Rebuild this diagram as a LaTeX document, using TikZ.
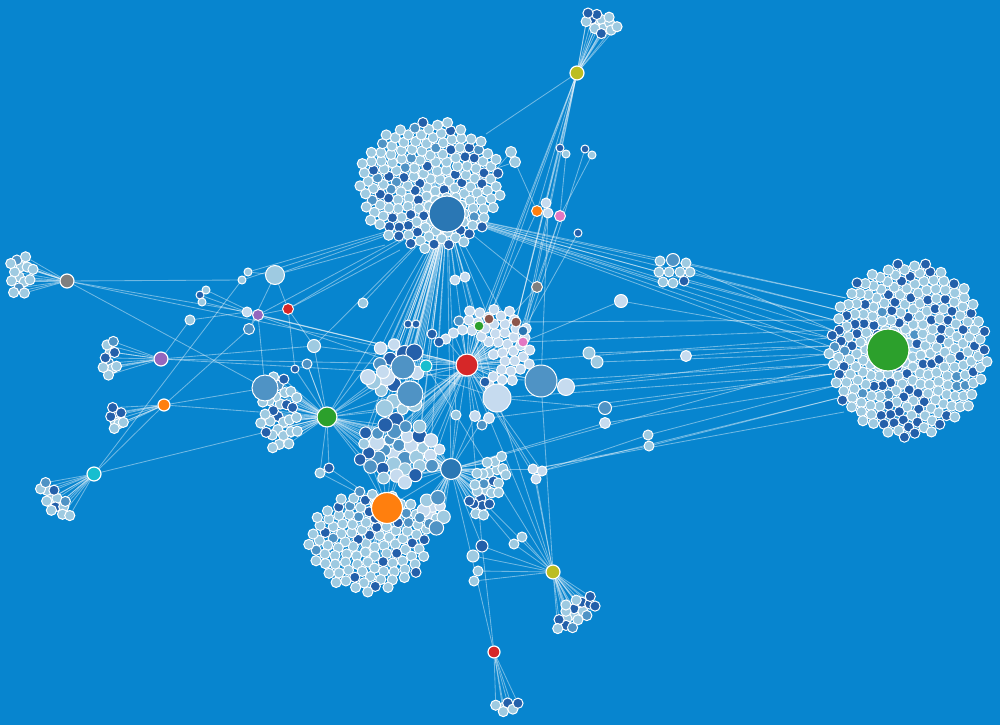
\documentclass[tikz,border=0pt]{standalone}
\pgfdeclarelayer{bg}
\pgfdeclarelayer{top}
\pgfsetlayers{bg,main,top}
\definecolor{bgc}{HTML}{0785CF}
\definecolor{lt}{HTML}{9ECAE1}
\definecolor{vl}{HTML}{C6DBEF}
\definecolor{md}{HTML}{4F93C5}
\definecolor{dk}{HTML}{2460AA}
\definecolor{cBlue}{HTML}{2A77B4}
\definecolor{cGreen}{HTML}{2CA02C}
\definecolor{cOrange}{HTML}{FF7F0E}
\definecolor{cRed}{HTML}{D62728}
\definecolor{cPurple}{HTML}{9467BD}
\definecolor{cBrown}{HTML}{8C564B}
\definecolor{cPink}{HTML}{E377C2}
\definecolor{cGray}{HTML}{7F7F7F}
\definecolor{cOlive}{HTML}{BCBD22}
\definecolor{cCyan}{HTML}{17BECF}
\tikzset{
  leaf/.style={circle,draw=white,line width=1pt,inner sep=0pt,minimum size=#1},
  leaf/.default=10.2pt,
  hub/.style={circle,draw=white,line width=1.2pt,inner sep=0pt,minimum size=#1},
  edge/.style={draw=white,draw opacity=0.42,line width=0.85pt},
}
\def\pmed{0.05}\def\pvl{0}\def\lmin{10.2}\def\lvar{0}
\def\exx{0}\def\exy{0}\def\exr{0}
\gdef\edgelist{}
\newcommand\clus[9]{%
  \begin{scope}[shift={(#3)},rotate=#7]
  \pgfmathsetmacro\tA{#8}%
  \pgfmathsetmacro\tB{#8+\pmed}%
  \pgfmathsetmacro\tC{#8+\pmed+\pvl}%
  \foreach \i in {1,...,#6}{%
    \pgfmathsetmacro\rr{sqrt((\i-0.5)/#6)}%
    \pgfmathsetmacro\aa{360*(\i*0.381966-floor(\i*0.381966))}%
    \pgfmathsetmacro\lx{#4*\rr*cos(\aa)}%
    \pgfmathsetmacro\ly{#5*\rr*sin(\aa)}%
    \def\dd{999}%
    \ifdim\exr pt>0pt \pgfmathsetmacro\dd{veclen(\lx-(\exx),\ly-(\exy))}\fi
    \ifdim\dd pt<\exr pt\relax\else
      \pgfmathsetmacro\q{rnd}%
      \pgfmathsetmacro\sz{\lmin+\lvar*rnd}%
      \ifdim\q pt<\tA pt\def\cc{dk}\else
        \ifdim\q pt<\tB pt\def\cc{md}\else
          \ifdim\q pt<\tC pt\def\cc{vl}\else\def\cc{#9}\fi\fi\fi
      \node[leaf=\sz pt,fill=\cc] (#1\i) at (\lx,\ly) {};
      \xdef\edgelist{\unexpanded\expandafter{\edgelist}\noexpand\draw[edge] (#2) -- (#1\i);}%
    \fi}%
  \end{scope}}
\newcommand\sn[4]{\node[leaf=#3pt,fill=#4] (#1) at (#2) {};}
\newcommand\fan[3]{\foreach \k in {#3}{\draw[edge] (#1) -- (#2\k);}}
\begin{document}
\begin{tikzpicture}[x=1pt,y=-1pt]
\pgfmathsetseed{4242}
\begin{pgfonlayer}{bg}
\fill[bgc] (0,0) rectangle (1000,725);
\end{pgfonlayer}
\useasboundingbox (0,0) rectangle (1000,725);
% hubs
\begin{pgfonlayer}{top}
\node[hub=36pt,fill=cBlue] (hT) at (447,214) {};
\node[hub=42pt,fill=cGreen] (hR) at (888,350) {};
\node[hub=31pt,fill=cOrange] (hO) at (387,508) {};
\node[hub=20pt,fill=cGreen] (hG) at (327,417) {};
\node[hub=22pt,fill=cRed] (hRed) at (467,365) {};
\node[hub=21pt,fill=cBlue] (hD) at (451,469) {};
\node[hub=14pt,fill=cOlive] (hY1) at (577,73) {};
\node[hub=14pt,fill=cOlive] (hY2) at (553,572) {};
\node[hub=12pt,fill=cRed] (hRb) at (494,652) {};
\node[hub=14pt,fill=cGray] (hGray) at (67,281) {};
\node[hub=14pt,fill=cPurple] (hP) at (161,359) {};
\node[hub=12pt,fill=cOrange] (hOr) at (164,405) {};
\node[hub=14pt,fill=cCyan] (hC) at (94,474) {};
\end{pgfonlayer}
% anchor points inside clusters
\coordinate (rA) at (846,298); \coordinate (rB) at (838,310);
\coordinate (rC) at (834,320); \coordinate (rD) at (832,330);
\coordinate (rE) at (830,338); \coordinate (rF) at (829,346);
\coordinate (rG) at (829,354); \coordinate (rH) at (830,364);
\coordinate (rI) at (832,374); \coordinate (rJ) at (834,386);
\coordinate (rK) at (838,398); \coordinate (rL) at (844,412);
\coordinate (tY) at (486,134); \coordinate (tR) at (497,168);
\coordinate (tL) at (385,245); \coordinate (tL2) at (400,250);
% clusters
\clus{R}{hR}{908,350}{80}{88}{256}{0}{0.24}{lt}
\clus{T}{hT}{430,185}{72}{65}{170}{0}{0.17}{lt}
\clus{O}{hO}{369,541}{61}{51}{108}{0}{0.14}{lt}
\clus{G}{hG}{280,413}{20}{40}{30}{0}{0.12}{lt}
\def\exx{-21}\def\exy{17}\def\exr{27}\def\pmed{0.02}
\clus{K}{hRed}{488,348}{46}{42}{66}{0}{0.04}{vl}
\def\exr{0}\def\pmed{0.05}
\clus{Dr}{hD}{487,486}{36}{15}{24}{67}{0.2}{lt}
\clus{Y}{hY2}{576,612}{25}{13}{17}{41}{0.3}{lt}
\clus{Rb}{hRb}{507,706}{15}{6}{6}{0}{0.2}{lt}
\clus{Yt}{hY1}{600,23}{18}{11}{13}{-20}{0.2}{lt}
\clus{Gy}{hGray}{21,274}{13}{23}{14}{0}{0}{lt}
\clus{P}{hP}{110,360}{8}{21}{10}{0}{0.15}{lt}
\clus{Or}{hOr}{116,418}{8}{13}{8}{0}{0.25}{lt}
\clus{C}{hC}{54,500}{23}{10}{13}{-50}{0.15}{lt}
\def\lmin{10.5}\def\lvar{7}\def\pmed{0.22}\def\pvl{0.3}
\clus{CU}{hT}{397,380}{26}{42}{20}{0}{0.15}{lt}
\def\lmin{10.2}\def\lvar{5}
\clus{CL}{hD}{398,452}{42}{32}{34}{0}{0.22}{lt}
\clus{DL}{hD}{432,512}{15}{17}{11}{0}{0.15}{lt}
\def\lmin{10.2}\def\lvar{0}\def\pmed{0.05}\def\pvl{0}
% scattered nodes
\sn{a1}{511,152}{11}{lt} \sn{a2}{515,162}{11}{lt}
\sn{a3}{560,148}{8}{dk} \sn{a4}{566,154}{8}{lt}
\sn{a5}{585,149}{8}{dk} \sn{a6}{592,155}{8}{lt}
\sn{a7}{546,203}{10}{vl} \sn{a8}{548,213}{10}{vl}
\sn{a9}{578,233}{8}{dk}
\sn{or1}{537,211}{11}{cOrange} \sn{pk1}{560,216}{11}{cPink}
\sn{gy1}{537,287}{11}{cGray}
\sn{a10}{455,280}{10}{vl} \sn{a11}{465,277}{10}{vl}
\sn{a12}{621,301}{13}{vl}
\sn{g1}{660,261}{10}{lt} \sn{g2}{673,260}{13}{md} \sn{g3}{686,263}{10}{lt}
\sn{g4}{659,272}{10}{lt} \sn{g5}{669,272}{10}{lt} \sn{g6}{680,272}{10}{lt}
\sn{g7}{690,272}{10}{lt} \sn{g8}{663,282}{10}{lt} \sn{g9}{673,283}{10}{lt}
\sn{g10}{684,281}{10}{dk}
\sn{a13}{589,353}{12}{lt} \sn{a14}{597,362}{12}{lt} \sn{a15}{686,356}{11}{vl}
\sn{a16}{541,381}{32}{md} \sn{a17}{566,387}{17}{vl}
\sn{a18}{605,408}{13}{md} \sn{a19}{605,423}{11}{vl}
\sn{a20}{648,435}{10}{lt} \sn{a21}{649,446}{10}{lt}
\sn{a22}{533,469}{10}{vl} \sn{a23}{542,471}{10}{vl} \sn{a24}{536,479}{10}{vl}
\sn{a25}{497,398}{28}{vl}
\sn{a26}{523,331}{10}{cBlue} \sn{pk2}{523,342}{10}{cPink}
\sn{br1}{489,319}{10}{cBrown} \sn{br2}{516,322}{10}{cBrown}
\sn{grn1}{479,326}{10}{cGreen} \sn{cy1}{426,366}{12}{cCyan}
\sn{a27}{432,334}{10}{dk} \sn{a28}{439,342}{10}{dk}
\sn{a29}{408,324}{8}{dk} \sn{a30}{416,324}{8}{dk}
\sn{a31}{485,382}{10}{dk} \sn{a32}{475,416}{11}{vl} \sn{a33}{489,418}{11}{vl}
\sn{a34}{482,425}{10}{md} \sn{a35}{456,415}{10}{lt}
\sn{a36}{403,367}{24}{md} \sn{a37}{410,394}{26}{md}
\sn{a38}{368,377}{15}{vl} \sn{a39}{383,372}{13}{vl}
\sn{b1}{275,275}{19}{lt} \sn{b2}{248,272}{8}{lt} \sn{b3}{242,280}{8}{lt}
\sn{b4}{200,295}{8}{dk} \sn{b5}{206,290}{8}{lt} \sn{b6}{202,302}{8}{lt}
\sn{b7}{247,312}{10}{vl} \sn{pu1}{258,315}{11}{cPurple}
\sn{rd1}{288,309}{11}{cRed}
\sn{b8}{249,329}{11}{md} \sn{b9}{190,320}{10}{lt}
\sn{b10}{314,346}{13}{lt} \sn{b11}{363,303}{10}{lt}
\sn{b12}{265,388}{26}{md} \sn{b13}{307,364}{10}{md} \sn{b14}{295,369}{8}{dk}
\sn{b15}{320,473}{10}{lt} \sn{b16}{329,468}{10}{dk}
\sn{b17}{482,546}{12}{dk} \sn{b18}{473,556}{12}{lt}
\sn{b19}{478,571}{10}{lt} \sn{b20}{474,581}{10}{lt}
\sn{b21}{514,544}{10}{lt} \sn{b22}{522,537}{10}{lt}
% connectors
\begin{pgfonlayer}{bg}
\edgelist
\foreach \a/\b in {hT/rA,hT/rB,hT/rC,hT/rD,hT/rE,hT/rF,hT/rG,hT/g1,hT/g4,hT/g8,
  hT/a10,hT/a11,hT/grn1,hT/br1,hT/a25,hT/a16,hT/hRed,hT/cy1,hT/b11,hT/a27,hT/a28,
  hT/a29,hT/a30,hT/hD,hT/b10,hT/gy1,hT/b1,hT/b2,hT/pu1,hT/rd1,hT/a31,hT/a35,hT/b3,hT/hG,
  rA/g3,rB/g7,rC/g10,rD/g2,rE/a12,rF/a15,rF/a13,rG/a14,rG/a17,rH/a16,rH/a17,rI/a25,
  rI/a18,rJ/a19,rJ/a20,rK/a21,rK/a23,rL/a22,rE/hRed,rH/hD,rD/pk2,rC/br2,rI/a33,
  hRed/hY1,hRed/a16,hRed/a17,hRed/a25,hRed/a22,hRed/a23,hRed/a24,hRed/hGray,hRed/hP,
  hRed/b10,hRed/b7,hRed/hD,hRed/a26,hRed/pk2,hRed/br2,hRed/b17,hRed/a32,hRed/a34,
  hRed/pu1,hRed/b6,hRed/hY2,
  hY1/tY,hY1/a3,hY1/or1,hY1/a7,hY1/br1,hY1/br2,hY1/a26,hY1/pk2,hY1/grn1,
  a1/tR,a2/tR,a2/or1,a4/pk1,a6/pk1,a3/br2,a5/pk2,a9/a26,pk1/a26,pk1/a25,or1/hRed,
  a7/a25,a8/a16,gy1/hRed,a12/pk2,
  hGray/b3,hGray/b7,hGray/b12,hP/b9,hP/b10,hP/a16,hOr/b8,hOr/b12,hOr/hG,
  hC/b2,hC/hOr,hC/hG,b9/b7,b5/pu1,b4/b7,b1/rd1,b1/b2,b1/tL,rd1/tL2,rd1/b10,
  rd1/pu1,rd1/b14,pu1/b8,pu1/b12,b7/a25,b8/b1,b10/hG,b13/hG,
  hY2/b17,hY2/b18,hY2/b19,hY2/b20,hY2/b21,hY2/b22,hY2/a22,hY2/a16,hY2/hD,hY2/a24,
  hY2/a25,hY2/cy1,hRb/b17,hRb/hD,hO/b15,hO/b16,hO/hD,
  hG/b12,hG/b13,hG/b14,hG/b15,hG/b16,
  hD/a25,hD/b17,hD/b21,hD/a22,hD/a32,hD/a35,
  a20/a23,a21/a22,a18/a25,a19/hD}
  {\draw[edge] (\a) -- (\b);}
\fan{hRed}{CL}{1,3,...,33}
\fan{hG}{CL}{2,4,...,34}
\fan{hT}{CL}{3,6,...,33}
\fan{hO}{CL}{5,10,...,30}
\fan{hG}{CU}{2,5,...,20}
\fan{hRed}{CU}{1,4,...,19}
\end{pgfonlayer}
\end{tikzpicture}
\end{document}
